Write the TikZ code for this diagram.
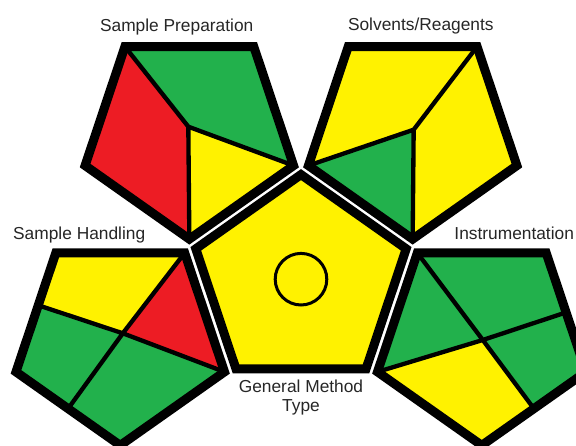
\documentclass[tikz,border=0pt]{standalone}
\usepackage{fontspec}
\setmainfont{Liberation Sans}
\usepackage{xcolor}
\usetikzlibrary{calc}

\definecolor{gapired}{RGB}{237,28,36}
\definecolor{gapigreen}{RGB}{34,177,76}
\definecolor{gapiyellow}{RGB}{255,242,0}

\tikzset{
	rim/.style={line width=0.27cm, line join=miter},
	cut/.style={line width=0.13cm},
	lbl/.style={anchor=base, inner sep=0pt, text=black!85, font=\fontsize{14.8}{17}\selectfont}
}

\begin{document}
\begin{tikzpicture}[x=0.03cm, y=0.03cm]
	\useasboundingbox (0,0) rectangle (576,446);

	\begin{scope}[shift={(301,164)}, xscale=1.03]
		% General Method Type
		\fill[gapiyellow] (90:107.4) -- (162:107.4) -- (234:107.4) -- (306:107.4) -- (18:107.4) -- cycle;
		\draw[rim] (90:107.4) -- (162:107.4) -- (234:107.4) -- (306:107.4) -- (18:107.4) -- cycle;

		% Sample Preparation
		\begin{scope}[shift={(-108.4,149.3)}]
			\coordinate (sp1) at (126:106.4);
			\coordinate (sp2) at (54:106.4);
			\coordinate (sp3) at (-18:106.4);
			\coordinate (sp4) at (-90:106.4);
			\coordinate (sp5) at (198:106.4);
			\coordinate (spm) at (-1,6);
			\fill[gapired] (sp1) -- (spm) -- (sp4) -- (sp5) -- cycle;
			\fill[gapigreen] (sp1) -- (sp2) -- (sp3) -- (spm) -- cycle;
			\fill[gapiyellow] (spm) -- (sp3) -- (sp4) -- cycle;
			\draw[cut] (sp1) -- (spm) -- (sp3) (spm) -- (sp4);
			\draw[rim] (sp1) -- (sp2) -- (sp3) -- (sp4) -- (sp5) -- cycle;
		\end{scope}

		% Solvents/Reagents
		\begin{scope}[shift={(108.4,149.3)}]
			\coordinate (sr1) at (126:106.4);
			\coordinate (sr2) at (54:106.4);
			\coordinate (sr3) at (-18:106.4);
			\coordinate (sr4) at (-90:106.4);
			\coordinate (sr5) at (198:106.4);
			\coordinate (srm) at (1,3);
			\fill[gapiyellow] (sr1) -- (sr2) -- (srm) -- (sr5) -- cycle;
			\fill[gapiyellow] (sr2) -- (sr3) -- (sr4) -- (srm) -- cycle;
			\fill[gapigreen] (sr5) -- (srm) -- (sr4) -- cycle;
			\draw[cut] (sr2) -- (srm) -- (sr5) (srm) -- (sr4);
			\draw[rim] (sr1) -- (sr2) -- (sr3) -- (sr4) -- (sr5) -- cycle;
		\end{scope}

		% Sample Handling
		\begin{scope}[shift={(-175.5,-57)}]
			\coordinate (sh1) at (126:106.4);
			\coordinate (sh2) at (54:106.4);
			\coordinate (sh3) at (-18:106.4);
			\coordinate (sh4) at (-90:106.4);
			\coordinate (sh5) at (198:106.4);
			\coordinate (shm) at (2.5,5.7);
			\coordinate (she) at ($(sh1)!0.44!(sh5)$);
			\coordinate (shf) at ($(sh5)!0.5!(sh4)$);
			\fill[gapiyellow] (sh1) -- (sh2) -- (shm) -- (she) -- cycle;
			\fill[gapired] (sh2) -- (sh3) -- (shm) -- cycle;
			\fill[gapigreen] (she) -- (shm) -- (shf) -- (sh5) -- cycle;
			\fill[gapigreen] (shm) -- (sh3) -- (sh4) -- (shf) -- cycle;
			\draw[cut] (she) -- (shm) -- (sh3) (sh2) -- (shm) -- (shf);
			\draw[rim] (sh1) -- (sh2) -- (sh3) -- (sh4) -- (sh5) -- cycle;
		\end{scope}

		% Instrumentation
		\begin{scope}[shift={(175.5,-57)}]
			\coordinate (in1) at (126:106.4);
			\coordinate (in2) at (54:106.4);
			\coordinate (in3) at (-18:106.4);
			\coordinate (in4) at (-90:106.4);
			\coordinate (in5) at (198:106.4);
			\coordinate (inm) at (1,-1);
			\coordinate (ine) at ($(in2)!0.5!(in3)$);
			\coordinate (inf) at ($(in3)!0.5!(in4)$);
			\fill[gapigreen] (in1) -- (inm) -- (in5) -- cycle;
			\fill[gapigreen] (in1) -- (in2) -- (ine) -- (inm) -- cycle;
			\fill[gapigreen] (inm) -- (ine) -- (in3) -- (inf) -- cycle;
			\fill[gapiyellow] (in5) -- (inm) -- (inf) -- (in4) -- cycle;
			\draw[cut] (in1) -- (inm) -- (inf) (in5) -- (inm) -- (ine);
			\draw[rim] (in1) -- (in2) -- (in3) -- (in4) -- (in5) -- cycle;
		\end{scope}
	\end{scope}

	\draw[line width=0.09cm] (301,166.8) circle[radius=25.8];

	\node[lbl] (prep) at (176.7,414.3) {Sample Preparation};
	\node[lbl] (solv) at (420.8,415.3) {Solvents/Reagents};
	\node[lbl] (hand) at (79.2,206.7) {Sample Handling};
	\node[lbl] (inst) at (514.2,206.7) {Instrumentation};
	\node[lbl] (meth) at (301,53.7) {General Method};
	\node[lbl] (type) at (301,34.3) {Type};
\end{tikzpicture}
\end{document}
